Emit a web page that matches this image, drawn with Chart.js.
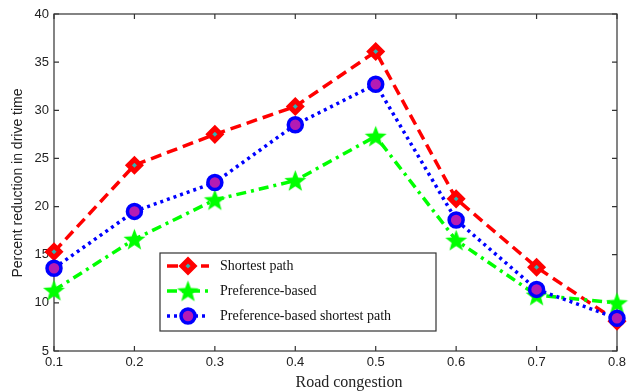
<!DOCTYPE html>
<html>
<head>
<meta charset="utf-8">
<script src="https://cdn.jsdelivr.net/npm/chart.js@4.4.1/dist/chart.umd.min.js"></script>
<style>
html,body{margin:0;padding:0;background:#fff;}
#wrap{width:639px;height:392px;position:relative;}
</style>
</head>
<body>
<div id="wrap"><canvas id="c" width="639" height="392"></canvas></div>
<script>
// ---- data ----
const categories = ['0.1','0.2','0.3','0.4','0.5','0.6','0.7','0.8'];
const shortestPath = [15.3, 24.3, 27.5, 30.4, 36.1, 20.8, 13.7, 8.1];
const preferenceBased = [11.3, 16.6, 20.7, 22.7, 27.3, 16.5, 10.8, 10.0];
const prefShortestPath = [13.6, 19.5, 22.5, 28.5, 32.7, 18.6, 11.4, 8.4];
const yTicks = [5, 10, 15, 20, 25, 30, 35, 40];
const seriesNames = ['Shortest path', 'Preference-based', 'Preference-based shortest path'];
const xTitle = 'Road congestion';
const yTitle = 'Percent reduction in drive time';

// filled star marker
function makeStar(size, color) {
  const cv = document.createElement('canvas');
  cv.width = size; cv.height = size;
  const g = cv.getContext('2d');
  const cx = size / 2, cy = size / 2, R = size / 2, r = R * 0.42;
  g.beginPath();
  for (let i = 0; i < 10; i++) {
    const rad = i % 2 === 0 ? R : r;
    const a = -Math.PI / 2 + i * Math.PI / 5;
    const px = cx + rad * Math.cos(a), py = cy + rad * Math.sin(a) + 1;
    if (i === 0) g.moveTo(px, py); else g.lineTo(px, py);
  }
  g.closePath();
  g.fillStyle = color;
  g.fill();
  return cv;
}
const starImg = makeStar(23, '#00ff00');

const L = 54, R = 617, T = 14, B = 351;

const frame = {
  id: 'frame',
  beforeDatasetsDraw(chart) {
    const ctx = chart.ctx, a = chart.chartArea;
    const xs = chart.scales.x, ys = chart.scales.y;
    ctx.save();
    ctx.strokeStyle = '#333';
    ctx.lineWidth = 1.2;
    ctx.strokeRect(a.left, a.top, a.right - a.left, a.bottom - a.top);
    ctx.beginPath();
    const tl = 5;
    yTicks.forEach(v => {
      const y = ys.getPixelForValue(v);
      ctx.moveTo(a.left, y); ctx.lineTo(a.left + tl, y);
      ctx.moveTo(a.right, y); ctx.lineTo(a.right - tl, y);
    });
    categories.forEach((c, i) => {
      const x = xs.getPixelForValue(i);
      ctx.moveTo(x, a.bottom); ctx.lineTo(x, a.bottom - tl);
      ctx.moveTo(x, a.top); ctx.lineTo(x, a.top + tl);
    });
    ctx.stroke();
    ctx.restore();
  },
  afterDraw(chart) {
    const ctx = chart.ctx;
    ctx.save();
    // axis titles
    ctx.fillStyle = '#222';
    ctx.font = '16px "Liberation Serif", serif';
    ctx.textAlign = 'center';
    ctx.textBaseline = 'middle';
    ctx.fillText(xTitle, 349, 383);
    ctx.translate(18, 183);
    ctx.rotate(-Math.PI / 2);
    ctx.font = '14px "Liberation Sans", Arial, sans-serif';
    ctx.fillText(yTitle, 0, 0);
    ctx.restore();

    // legend
    ctx.save();
    const bx = 160, by = 253, bw = 276, bh = 78;
    ctx.fillStyle = '#fff';
    ctx.fillRect(bx, by, bw, bh);
    ctx.strokeStyle = '#333';
    ctx.lineWidth = 1.2;
    ctx.strokeRect(bx, by, bw, bh);
    const rows = [266, 291, 316];
    chart.data.datasets.slice().sort((p, q) => p.legendIdx - q.legendIdx).forEach((ds, i) => {
      const y = rows[i];
      ctx.save();
      ctx.strokeStyle = ds.borderColor;
      ctx.lineWidth = 3.5;
      ctx.setLineDash(ds.borderDash);
      ctx.beginPath();
      ctx.moveTo(167, y); ctx.lineTo(209, y);
      ctx.stroke();
      ctx.setLineDash([]);
      ctx.fillStyle = ds.pointBackgroundColor;
      ctx.strokeStyle = ds.pointBorderColor;
      ctx.lineWidth = ds.pointBorderWidth;
      Chart.helpers.drawPoint(ctx, {
        pointStyle: ds.pointStyle,
        radius: ds.pointRadius,
        borderWidth: ds.pointBorderWidth,
        rotation: 0
      }, 188, y);
      ctx.restore();
      ctx.fillStyle = '#111';
      ctx.font = '14px "Liberation Serif", serif';
      ctx.textAlign = 'left';
      ctx.textBaseline = 'middle';
      ctx.fillText(seriesNames[ds.legendIdx], 220, y);
    });
    ctx.restore();
  }
};

new Chart(document.getElementById('c'), {
  type: 'line',
  data: {
    labels: categories,
    datasets: [
      {
        label: seriesNames[2], legendIdx: 2, order: 0,
        data: prefShortestPath,
        borderColor: '#0000ff', borderWidth: 3.5, borderDash: [3, 4], borderCapStyle: 'butt',
        pointStyle: 'circle', pointRadius: 7, pointBorderWidth: 3.5,
        pointBorderColor: '#0000ff', pointBackgroundColor: '#b41cb4',
        tension: 0, clip: false, fill: false
      },
      {
        label: seriesNames[1], legendIdx: 1, order: 1,
        data: preferenceBased,
        borderColor: '#00ff00', borderWidth: 3.5, borderDash: [10, 5, 3, 5], borderCapStyle: 'butt',
        pointStyle: starImg, pointRadius: 11, pointBorderWidth: 0,
        pointBorderColor: '#00ff00', pointBackgroundColor: '#00ff00',
        tension: 0, clip: false, fill: false
      },
      {
        label: seriesNames[0], legendIdx: 0, order: 2,
        data: shortestPath,
        borderColor: '#ff0000', borderWidth: 3.5, borderDash: [11, 6], borderCapStyle: 'butt',
        pointStyle: 'rectRot', pointRadius: 6, pointBorderWidth: 5,
        pointBorderColor: '#ff0000', pointBackgroundColor: '#2fb4b4',
        tension: 0, clip: false, fill: false
      }
    ]
  },
  options: {
    responsive: false,
    animation: false,
    devicePixelRatio: 1,
    layout: { padding: { left: 0, right: 639 - R, top: T, bottom: 0 } },
    plugins: { legend: { display: false }, tooltip: { enabled: false } },
    scales: {
      x: {
        type: 'category',
        offset: false,
        grid: { display: false, drawTicks: false },
        border: { display: false },
        ticks: { padding: 4, color: '#222', font: { family: '"Liberation Sans", Arial, sans-serif', size: 13 }, maxRotation: 0, autoSkip: false },
        afterFit(s) { s.height = 392 - B; }
      },
      y: {
        type: 'linear',
        min: 5, max: 40,
        grid: { display: false, drawTicks: false },
        border: { display: false },
        ticks: { stepSize: 5, padding: 5, color: '#222', font: { family: '"Liberation Sans", Arial, sans-serif', size: 13 } },
        afterBuildTicks(s) { s.ticks = yTicks.map(v => ({ value: v })); },
        afterFit(s) { s.width = L; }
      }
    }
  },
  plugins: [frame]
});
</script>
</body>
</html>
